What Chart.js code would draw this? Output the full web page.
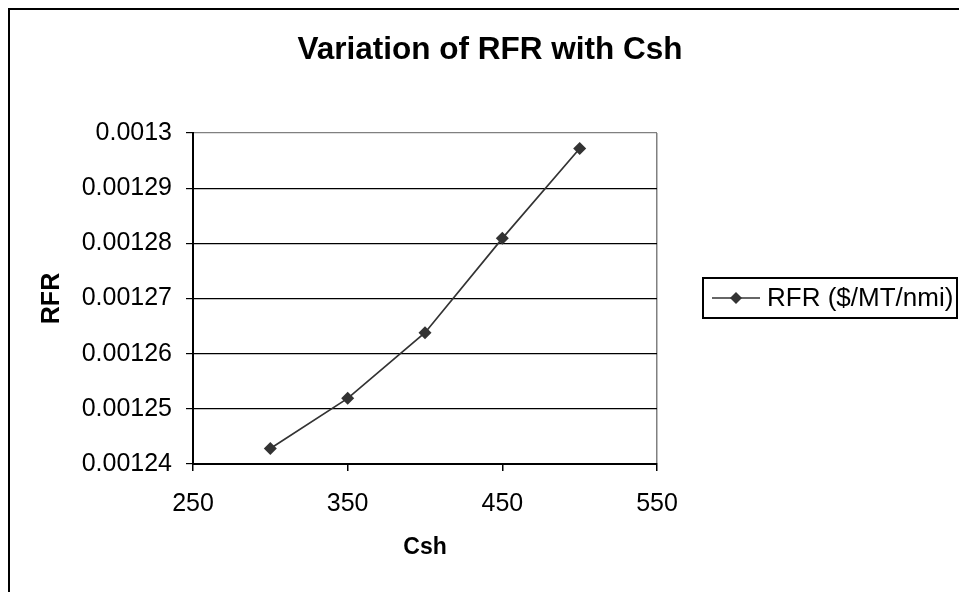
<!DOCTYPE html>
<html>
<head>
<meta charset="utf-8">
<title>Variation of RFR with Csh</title>
<script src="https://cdn.jsdelivr.net/npm/chart.js@4.4.1/dist/chart.umd.min.js"></script>
<style>
  body { margin: 0; background: #fff; }
  canvas { display: block; }
</style>
</head>
<body>
<canvas id="rfrChart" width="959" height="592"></canvas>
<script>
// Csh values and the RFR ($/MT/nmi) they produce
const cshValues = [300, 350, 400, 450, 500];
const rfrValues = [0.0012428, 0.0012519, 0.0012638, 0.0012809, 0.0012972];

// axis ticks
const xTicks = [250, 350, 450, 550];
const yTicks = [0.00124, 0.00125, 0.00126, 0.00127, 0.00128, 0.00129, 0.0013];

const chartTitle = 'Variation of RFR with Csh';
const fontFamily = "'Liberation Sans', Arial, sans-serif";
const lineColor = '#333333';

// outer frame and the title, centred over the whole chart object
const frame = {
  id: 'frame',
  afterDraw(chart) {
    const ctx = chart.ctx;
    ctx.save();
    ctx.strokeStyle = '#000';
    ctx.lineWidth = 2;
    ctx.strokeRect(9, 9, 1000, 700);

    ctx.fillStyle = '#000';
    ctx.font = 'bold 31.5px ' + fontFamily;
    ctx.textAlign = 'center';
    ctx.textBaseline = 'middle';
    ctx.fillText(chartTitle, 490, 50);
    ctx.restore();
  }
};

// boxed legend on the right: line with a diamond in the middle
const boxLegend = {
  id: 'boxLegend',
  afterDraw(chart) {
    const ctx = chart.ctx;
    const ds = chart.data.datasets[0];
    const cy = 298;
    ctx.save();
    ctx.strokeStyle = '#000';
    ctx.lineWidth = 2;
    ctx.strokeRect(703, 278, 254, 40);

    ctx.strokeStyle = lineColor;
    ctx.lineWidth = 1.5;
    ctx.beginPath();
    ctx.moveTo(712, cy);
    ctx.lineTo(760, cy);
    ctx.stroke();

    ctx.fillStyle = lineColor;
    ctx.beginPath();
    ctx.moveTo(736, cy - 6);
    ctx.lineTo(742, cy);
    ctx.lineTo(736, cy + 6);
    ctx.lineTo(730, cy);
    ctx.closePath();
    ctx.fill();

    ctx.fillStyle = '#000';
    ctx.font = '26px ' + fontFamily;
    ctx.textBaseline = 'middle';
    ctx.textAlign = 'left';
    ctx.fillText(ds.label, 767, cy + 1);
    ctx.restore();
  }
};

new Chart(document.getElementById('rfrChart'), {
  type: 'scatter',
  plugins: [frame, boxLegend],
  data: {
    datasets: [{
      label: 'RFR ($/MT/nmi)',
      data: cshValues.map((x, i) => ({ x: x, y: rfrValues[i] })),
      showLine: true,
      borderColor: lineColor,
      borderWidth: 1.7,
      backgroundColor: lineColor,
      pointStyle: 'rectRot',
      pointRadius: 6.5,
      pointBorderWidth: 0
    }]
  },
  options: {
    responsive: false,
    animation: false,
    layout: {
      padding: { left: 0, right: 302, top: 133, bottom: 31 }
    },
    plugins: {
      legend: { display: false },
      tooltip: { enabled: false },
      title: { display: false }
    },
    scales: {
      x: {
        type: 'linear',
        min: 250,
        max: 550,
        afterBuildTicks: scale => { scale.ticks = xTicks.map(v => ({ value: v })); },
        afterFit: scale => { scale.height = 97; },
        border: { color: '#000', width: 2 },
        grid: {
          drawOnChartArea: true,
          color: ctx => ctx.tick && ctx.tick.value === 550 ? '#808080' : 'rgba(0,0,0,0)',
          tickColor: '#000',
          tickLength: 7,
          lineWidth: 1.5
        },
        ticks: {
          color: '#000',
          padding: 18,
          font: { family: fontFamily, size: 25 }
        },
        title: {
          display: true,
          text: 'Csh',
          color: '#000',
          font: { family: fontFamily, size: 23, weight: 'bold' },
          padding: { top: 0, bottom: 0 }
        }
      },
      y: {
        type: 'linear',
        min: 0.00124,
        max: 0.0013,
        afterBuildTicks: scale => { scale.ticks = yTicks.map(v => ({ value: v })); },
        afterFit: scale => { scale.width = 193; },
        border: { color: '#000', width: 2 },
        grid: {
          color: ctx => ctx.tick && ctx.tick.value === 0.0013 ? '#808080' : '#000',
          tickColor: '#000',
          tickLength: 7,
          lineWidth: 1.2
        },
        ticks: {
          color: '#000',
          padding: 14,
          font: { family: fontFamily, size: 25 },
          callback: v => String(Number(v.toFixed(5)))
        },
        title: {
          display: true,
          text: 'RFR',
          color: '#000',
          font: { family: fontFamily, size: 25, weight: 'bold' },
          padding: { top: 37, bottom: 0 }
        }
      }
    }
  }
});
</script>
</body>
</html>
